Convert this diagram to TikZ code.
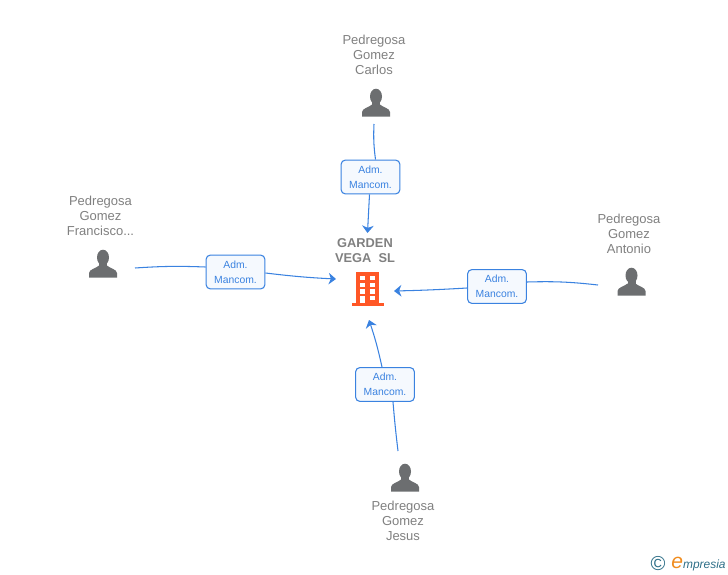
\documentclass[tikz,border=0pt]{standalone}
\usepackage{fontspec}
\setmainfont{Liberation Sans}
\usetikzlibrary{arrows.meta}
\definecolor{linkblue}{RGB}{58,130,224}
\definecolor{boxfill}{RGB}{245,249,254}
\definecolor{namegrey}{RGB}{128,128,128}
\definecolor{persongrey}{RGB}{108,110,112}
\definecolor{buildred}{RGB}{255,87,38}
\definecolor{logoteal}{RGB}{45,110,135}
\definecolor{logoorange}{RGB}{240,140,30}
\tikzset{
	rolebox/.style={draw=linkblue, fill=boxfill, rounded corners=2.5pt, line width=0.6pt, minimum width=33.5pt, minimum height=19.3pt, inner sep=0pt, align=center, font=\fontsize{5.9}{8.5}\selectfont, text=linkblue},
	personname/.style={align=center, font=\fontsize{7.4}{8.6}\selectfont, text=namegrey},
	link/.style={draw=linkblue, line width=0.6pt},
	linkarrow/.style={link, -{Stealth[length=4.2pt,width=6.6pt,inset=1.3pt]}},
	pics/person/.style={code={
		\fill[persongrey] (0,-6.5) ellipse (6 and 7.8);
		\fill[persongrey] (-4,-2) rectangle (4,6);
		\fill[persongrey] (-14,13.5)--(-14,9)
			.. controls (-13.5,5) and (-7,4.5) .. (-4,1.5)--(4,1.5)
			.. controls (7,4.5) and (13.5,5) .. (14,9)--(14,13.5)--cycle;
	}}
}
\begin{document}
\begin{tikzpicture}[x=0.02cm, y=-0.02cm]
	\useasboundingbox (0,0) rectangle (728,575);
	% names
	\node[personname] (carlosname) at (374,55) {Pedregosa\\Gomez\\Carlos};
	\node[personname] (francisconame) at (100.5,216) {Pedregosa\\Gomez\\Francisco...};
	\node[personname] (antonioname) at (629,234) {Pedregosa\\Gomez\\Antonio};
	\node[personname] (jesusname) at (403,521) {Pedregosa\\Gomez\\Jesus};
	\node[align=center, font=\fontsize{7.3}{8.6}\selectfont\bfseries, text=namegrey] (garden) at (365,250.5) {GARDEN\\VEGA\ \ SL};
	% people
	\pic at (376,103) {person};
	\pic at (103,264) {person};
	\pic at (631.5,282) {person};
	\pic at (405,478) {person};
	% building
	\fill[buildred] (351.5,303) rectangle (383.5,305.5);
	\fill[buildred] (356,272) rectangle (378.5,304);
	\foreach \i in {0,1,2,3} \foreach \j in {0,1} \fill[white] (360+\j*10,276+\i*6.7) rectangle ++(4.8,4.2);
	\fill[white] (360,296) rectangle (364.8,303);
	% connectors
	\coordinate (carlosend) at (374,124);
	\coordinate (franciscoend) at (135,268);
	\coordinate (antonioend) at (598,285);
	\coordinate (jesusend) at (398,451);
	\coordinate (gardentop) at (367.5,233);
	\coordinate (gardenleft) at (336,279);
	\coordinate (gardenright) at (394,291);
	\coordinate (gardenbottom) at (369,320);
	\node[rolebox] (carlosrole) at (370.5,177) {Adm.\\Mancom.};
	\node[rolebox] (franciscorole) at (235.5,272) {Adm.\\Mancom.};
	\node[rolebox] (antoniorole) at (497,286.5) {Adm.\\Mancom.};
	\node[rolebox] (jesusrole) at (385,384.5) {Adm.\\Mancom.};
	\draw[link] (carlosend) to[bend right=5] (carlosrole.north -| 375.5,0);
	\draw[linkarrow] (carlosrole.south -| 369.5,0) -- (gardentop);
	\draw[link] (franciscoend) to[bend left=3] (franciscorole.west |- 0,267);
	\draw[linkarrow] (franciscorole.east |- 0,273) to[bend right=2] (gardenleft);
	\draw[link] (antonioend) to[bend right=4] (antoniorole.east |- 0,282);
	\draw[linkarrow] (antoniorole.west |- 0,288) to[bend left=1] (gardenright);
	\draw[link] (jesusend) to[bend left=1] (jesusrole.south -| 393,0);
	\draw[linkarrow] (jesusrole.north -| 382,0) to[bend right=3] (gardenbottom);
	% logo
	\node[text=logoteal, font=\fontsize{11.5}{11.5}\selectfont] (copyright) at (658,564) {©};
	\node[anchor=west, inner sep=0pt, font=\fontsize{6.8}{7}\selectfont\itshape, text=logoteal] (logo) at (671,564) {{\fontsize{12}{12}\selectfont\color{logoorange}e}mpresia};
\end{tikzpicture}
\end{document}
